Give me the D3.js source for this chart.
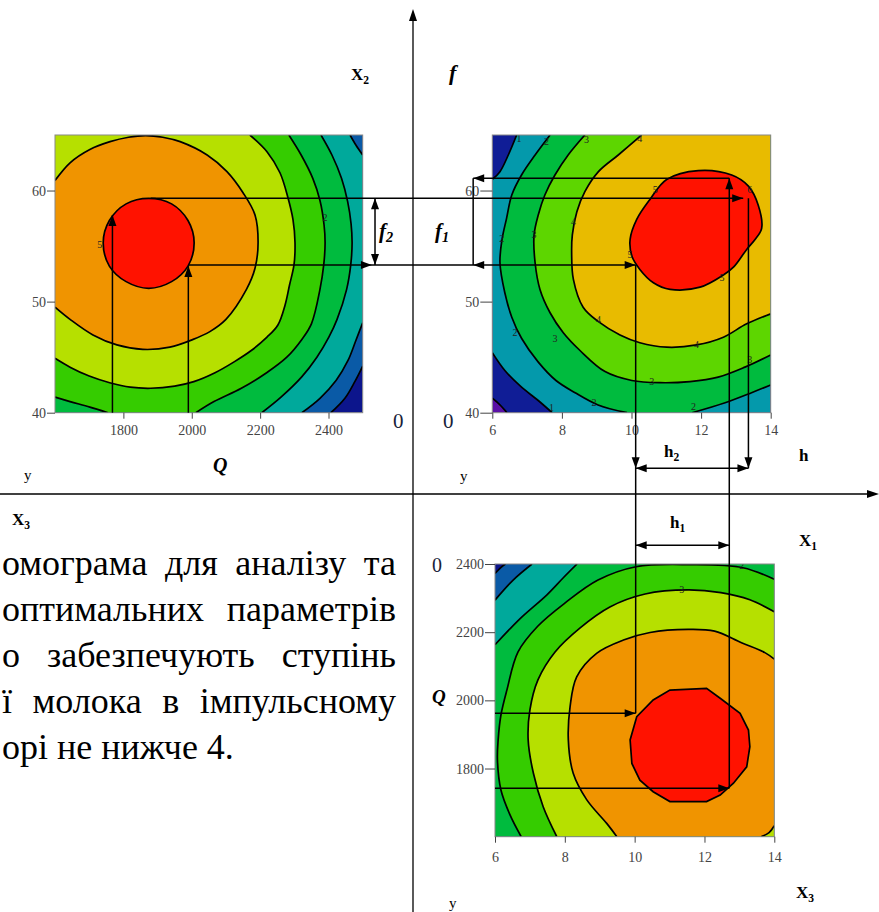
<!DOCTYPE html>
<html>
<head>
<meta charset="utf-8">
<script src="https://cdn.jsdelivr.net/npm/d3@7"></script>
<style>
  body { margin: 0; background: #fff; }
  svg { display: block; }
</style>
</head>
<body>
<svg id="chart"></svg>
<script>
// ---- tick values ----
const tlQTicks = [1800, 2000, 2200, 2400];
const fTicks = [40, 50, 60];
const hTicks = [6, 8, 10, 12, 14];
const bpQTicks = [1800, 2000, 2200, 2400];

// ---- contour lines, top-left plot (Q, f) ----
const tlLm1 = [[2407,40],[2448,41.3],[2477,42.8],[2500,44.2]];
const tlL0a = [[2500,63.2],[2480,64.1],[2463,65]];
const tlL0b = [[2322,40],[2375,41.3],[2422,42.9],[2457,44.7],[2480,46.5],[2500,48.1]];
const tlL1 = [[2205,40],[2261,41.4],[2321,43.2],[2366,45.0],[2401,46.8],[2425,48.4],[2453,51.1],[2465,53.3],[2469,55.3],[2466,57.0],[2456,59.0],[2438,61.1],[2410,63.2],[2378,65]];
const tlL2a = [[2012,40],[2065,41.0],[2145,42.2],[2219,43.6],[2278,45.0],[2322,46.6],[2350,48.0],[2375,51.1],[2386,53.3],[2390,55.3],[2387,56.9],[2375,59.1],[2354,61.1],[2320,63.2],[2284,65]];
const tlL2b = [[1600,41.4],[1644,41.0],[1702,40.5],[1755,40]];
const tlL3 = [[2170,65],[2220,63.5],[2258,61.6],[2281,59.4],[2296,57.4],[2302,55.3],[2299,53.3],[2286,51.5],[2273,49.7],[2252,47.9],[2220,46.8],[2174,45.6],[2125,44.6],[2068,43.6],[2006,42.8],[1950,42.4],[1880,42.2],[1820,42.3],[1760,42.7],[1700,43.3],[1644,44.1],[1600,44.9]];
const tlL4 = [[1600,60.9],[1644,62.5],[1702,63.7],[1761,64.4],[1815,64.8],[1865,64.95],[1915,64.8],[1966,64.4],[2045,63.2],[2103,61.7],[2150,59.8],[2185,57.8],[2194,55.3],[2185,53.0],[2160,51.1],[2100,48.4],[2053,47.3],[2004,46.6],[1936,45.9],[1857,45.7],[1781,46.1],[1711,47.0],[1644,48.4],[1600,49.5]];
const tlL5 = [[2007,55.3],[1989,57.3],[1941,58.8],[1874,59.3],[1808,58.8],[1759,57.3],[1741,55.3],[1759,53.2],[1808,51.8],[1874,51.2],[1941,51.8],[1989,53.2]];
const tlLabels = [[1731,55.1,'5'],[2390,57.6,'2']];

// ---- contour lines, top-right plot (h, f) ----
const trL0 = [[6,41.3],[6.22,40.7],[6.42,40]];
const trL1a = [[6.70,65],[6.46,63.2],[6.22,61.7],[6,61.0]];
const trL1b = [[6,45.4],[6.36,43.8],[6.84,42.3],[7.32,41.1],[7.72,40]];
const trL2a = [[7.66,65],[7.23,63.2],[6.84,61.4],[6.56,59.6],[6.41,57.5],[6.28,55.6],[6.22,53.5],[6.36,50.8],[6.56,48.6],[6.84,46.7],[7.31,44.6],[7.83,42.9],[8.38,41.8],[9.04,40.7],[9.87,40]];
const trL2b = [[11.74,40],[12.69,40.9],[13.45,41.8],[14,42.5]];
const trL3 = [[8.66,65],[8.18,63.2],[7.80,61.4],[7.51,59.6],[7.32,57.8],[7.20,56.0],[7.23,53.5],[7.37,51.1],[7.66,49.0],[8.04,47.2],[8.52,45.6],[9.24,43.7],[10.01,42.9],[10.82,42.7],[11.68,42.8],[12.49,43.2],[13.26,44.1],[14,45.2]];
const trL4 = [[10.29,65],[9.62,63.2],[9.05,61.7],[8.66,59.9],[8.43,58.1],[8.30,56.0],[8.28,54.4],[8.33,52.0],[8.61,49.5],[9.05,48.2],[9.67,47.0],[10.24,46.3],[11.01,45.9],[11.87,46.1],[12.64,46.8],[13.31,48.0],[14,48.9]];
const trL5 = [[11.01,61.0],[11.92,61.8],[12.88,61.4],[13.36,60.4],[13.64,58.7],[13.74,56.6],[13.55,55.6],[13.31,54.7],[12.93,53.1],[12.64,52.4],[11.97,51.3],[11.11,51.1],[10.63,51.7],[10.24,52.9],[10.01,54.1],[9.96,55.6],[10.15,57.4],[10.53,59.2]];
const trLabels = [[6.77,64.7,'1'],[7.56,64.4,'2'],[8.71,64.6,'3'],[10.24,64.7,'4'],[10.68,60.1,'5'],[13.4,60.1,'6'],[9.96,54.2,'5'],[12.6,52.2,'5'],[6.27,55.7,'2'],[7.2,56.0,'3'],[8.33,57.2,'4'],[9.05,48.4,'4'],[11.87,46.1,'4'],[6.65,47.2,'2'],[7.8,46.7,'3'],[10.58,42.8,'3'],[13.4,44.8,'3'],[8.92,40.9,'2'],[11.78,40.6,'2'],[7.7,40.5,'1']];

// ---- contour lines, bottom plot (h, Q) ----
const bpLm1 = [[6,2372],[6.15,2388],[6.3,2400]];
const bpL0 = [[6,2294],[6.52,2353],[7.06,2400]];
const bpL1 = [[6,2163],[6.72,2240],[7.48,2309],[7.95,2359],[8.35,2400]];
const bpL2 = [[6.75,1600],[6.43,1664],[6.17,1737],[6.07,1825],[6.09,1884],[6.17,1957],[6.34,2030],[6.66,2142],[7.23,2218],[8.01,2286],[8.95,2353],[10.04,2392],[11.59,2398],[13.10,2389],[14,2355]];
const bpL3 = [[7.77,1600],[7.38,1688],[7.10,1786],[6.95,1884],[7.00,1972],[7.23,2060],[7.72,2142],[8.43,2212],[9.29,2274],[10.30,2312],[11.53,2324],[12.47,2316],[13.30,2295],[14,2260]];
const bpL4a = [[9.49,1600],[9.20,1639],[8.63,1708],[8.24,1786],[8.10,1884],[8.15,1981],[8.34,2069],[8.91,2138],[9.68,2177],[10.44,2199],[11.53,2208],[12.29,2203],[13.06,2169],[13.73,2140],[14,2121]];
const bpL4b = [[14,1632],[13.85,1612],[13.62,1600]];
const bpL5 = [[11.01,2030],[12.06,2035],[12.45,2006],[13.02,1962],[13.26,1913],[13.30,1864],[13.21,1805],[12.83,1757],[12.45,1722],[12.06,1703],[11.01,1703],[10.53,1732],[10.15,1766],[9.92,1815],[9.87,1884],[10.06,1952],[10.53,2001]];
const bpLabels = [[13.07,2397,'2'],[11.35,2324,'3']];

// ---- nomogram guide lines: [xPanel, x, yPanel, y] ----
const guides = [
  [['tl',1768,'tl',40], ['tl',1768,'tl',57.8]],
  [['tl',1990,'tl',40], ['tl',1990,'tl',53.2]],
  [['tl',1880,'tl',59.3], ['tr',13.21,'tr',59.3]],
  [['tl',1990,'tl',53.3], ['tr',10.12,'tr',53.3]],
  [['tr',5.45,'tr',61.1], ['tr',12.81,'tr',61.1]],
  [['tr',5.45,'tr',61.1], ['tr',5.45,'tr',53.3]],
  [['tl',2536,'tl',59.3], ['tl',2536,'tl',53.3]],
  [['tr',10.12,'tr',53.3], ['tr',10.12,'bp',1962]],
  [['tr',12.81,'tr',61.1], ['tr',12.81,'bp',1742]],
  [['tr',13.36,'tr',59.3], ['tr',13.36,'tr',35.0]],
  [['tr',10.12,'tr',35.0], ['tr',13.36,'tr',35.0]],
  [['tr',10.12,'bp',2455], ['tr',12.81,'bp',2455]],
  [['bp',6,'bp',1962], ['tr',10.12,'bp',1962]],
  [['bp',6,'bp',1742], ['tr',12.81,'bp',1742]]
];
// arrow heads: tip point and direction
const heads = [
  [['tl',1768,'tl',57.8], 'up'], [['tl',1990,'tl',53.2], 'up'],
  [['tr',13.21,'tr',59.3], 'right'],
  [['tl',2527,'tl',53.3], 'right'], [['tr',5.45,'tr',53.3], 'left'], [['tr',10.12,'tr',53.3], 'right'],
  [['tr',5.45,'tr',61.1], 'left'], [['tr',12.81,'tr',61.1], 'up'],
  [['tl',2536,'tl',59.3], 'up'], [['tl',2536,'tl',53.3], 'down'],
  [['tr',10.12,'tr',35.0], 'down'], [['tr',13.36,'tr',35.0], 'down'],
  [['tr',10.12,'tr',35.0], 'left'], [['tr',13.36,'tr',35.0], 'right'],
  [['tr',10.12,'bp',2455], 'left'], [['tr',12.81,'bp',2455], 'right'],
  [['tr',10.12,'bp',1962], 'right'], [['tr',12.81,'bp',1742], 'right']
];

const paraLines = [
  ['омограма', 'для', 'аналізу', 'та'],
  ['оптимальних', 'параметрів'],
  ['о', 'забезпечують', 'ступінь'],
  ['ї', 'молока', 'в', 'імпульсному'],
  ['орі', 'не', 'нижче', '4.']
];

const pal = {
  red: '#ff1200', orange: '#f09400', gold: '#e8bb00', yg: '#b6e000',
  lgreen: '#35cc00', lgreen2: '#5dd600', green: '#00bb3e', teal: '#00a99b',
  teal2: '#0499ab', blue: '#0a5aa6', navy: '#0c158c', navy2: '#101d96', purple: '#5a10a6'
};

const W = 879, H = 912;
const serif = 'Liberation Serif, Times New Roman, serif';
const svg = d3.select('#chart').attr('width', W).attr('height', H);

const panels = {
  tl: { x: d3.scaleLinear().domain([1600, 2500]).range([55, 362.7]),
        y: d3.scaleLinear().domain([40, 65]).range([412.7, 135]) },
  tr: { x: d3.scaleLinear().domain([6, 14]).range([492.3, 770.7]),
        y: d3.scaleLinear().domain([40, 65]).range([412.7, 135]) },
  bp: { x: d3.scaleLinear().domain([6, 14]).range([495, 774.3]),
        y: d3.scaleLinear().domain([1600, 2400]).range([836.7, 564]) }
};

const bands = {
  tl: { base: pal.navy, list: [
    { c: pal.blue, parts: [tlLm1, 'NE', 'NW', 'SW'] },
    { c: pal.teal, parts: [tlL0b, tlL0a, 'NW', 'SW'] },
    { c: pal.green, parts: [tlL1, 'NW', 'SW'] },
    { c: pal.lgreen, parts: [tlL2a, 'NW', tlL2b] },
    { c: pal.yg, parts: [tlL3, 'NW'] },
    { c: pal.orange, parts: [tlL4] }],
    red: tlL5, lines: [tlLm1, tlL0a, tlL0b, tlL1, tlL2a, tlL2b, tlL3, tlL4], labels: tlLabels },
  tr: { base: pal.purple, list: [
    { c: pal.navy2, parts: [trL0, 'SE', 'NE', 'NW'] },
    { c: pal.teal2, parts: [trL1b, 'SE', 'NE', trL1a] },
    { c: pal.green, parts: [trL2a, trL2b, 'NE'] },
    { c: pal.lgreen2, parts: [trL3, 'NE'] },
    { c: pal.gold, parts: [trL4, 'NE'] }],
    red: trL5, lines: [trL0, trL1a, trL1b, trL2a, trL2b, trL3, trL4], labels: trLabels },
  bp: { base: pal.navy, list: [
    { c: pal.blue, parts: [bpLm1, 'NE', 'SE', 'SW'] },
    { c: pal.teal, parts: [bpL0, 'NE', 'SE', 'SW'] },
    { c: pal.green, parts: [bpL1, 'NE', 'SE', 'SW'] },
    { c: pal.lgreen, parts: [bpL2, 'SE'] },
    { c: pal.yg, parts: [bpL3, 'SE'] },
    { c: pal.orange, parts: [bpL4a, bpL4b] }],
    red: bpL5, redLinear: true, lines: [bpLm1, bpL0, bpL1, bpL2, bpL3, bpL4a, bpL4b], labels: bpLabels }
};

function regionPath(p, parts) {
  const [x0, x1] = p.x.domain(), [y0, y1] = p.y.domain();
  const corner = { NW: [x0, y1], NE: [x1, y1], SW: [x0, y0], SE: [x1, y0] };
  const smooth = d3.line().x(d => p.x(d[0])).y(d => p.y(d[1])).curve(d3.curveCatmullRom);
  let d = '';
  parts.forEach(part => {
    let s = typeof part === 'string'
      ? 'M' + p.x(corner[part][0]) + ',' + p.y(corner[part][1])
      : smooth(part);
    d += d ? s.replace(/^M/, 'L') : s;
  });
  return d + 'Z';
}

// ---- contour panels ----
Object.keys(panels).forEach(key => {
  const p = panels[key], b = bands[key];
  const [rx0, rx1] = p.x.range(), [ry0, ry1] = p.y.range();
  const clipId = 'clip-' + key;
  svg.append('clipPath').attr('id', clipId).append('rect')
    .attr('x', rx0).attr('y', ry1).attr('width', rx1 - rx0).attr('height', ry0 - ry1);

  const g = svg.append('g').attr('clip-path', `url(#${clipId})`);
  g.append('rect').attr('x', rx0).attr('y', ry1).attr('width', rx1 - rx0).attr('height', ry0 - ry1)
    .attr('fill', b.base);
  b.list.forEach(band => {
    g.append('path').attr('d', regionPath(p, band.parts)).attr('fill', band.c);
  });
  const closed = d3.line().x(d => p.x(d[0])).y(d => p.y(d[1]))
    .curve(b.redLinear ? d3.curveLinearClosed : d3.curveCatmullRomClosed);
  g.append('path').attr('d', closed(b.red)).attr('fill', pal.red)
    .attr('stroke', '#000').attr('stroke-width', 1.7);

  const open = d3.line().x(d => p.x(d[0])).y(d => p.y(d[1])).curve(d3.curveCatmullRom);
  g.selectAll('path.lvl').data(b.lines).enter().append('path').attr('class', 'lvl')
    .attr('d', open).attr('fill', 'none').attr('stroke', '#000')
    .attr('stroke-width', 1.7).attr('stroke-linejoin', 'round');

  g.selectAll('text.lbl').data(b.labels).enter().append('text').attr('class', 'lbl')
    .attr('x', d => p.x(d[0])).attr('y', d => p.y(d[1])).attr('dy', '0.35em')
    .attr('text-anchor', 'middle').style('font-family', serif).attr('font-size', 10)
    .attr('fill', '#222').text(d => d[2]);

  svg.append('rect').attr('x', rx0).attr('y', ry1).attr('width', rx1 - rx0).attr('height', ry0 - ry1)
    .attr('fill', 'none').attr('stroke', '#888').attr('stroke-width', 1);
});

// ---- axes of the panels ----
function styleAxis(sel) {
  sel.select('.domain').remove();
  sel.selectAll('line').attr('stroke', '#444');
  sel.selectAll('text').style('font-family', serif).attr('font-size', 14).attr('fill', '#444');
}
const fmt = d3.format('d');
const pTL = panels.tl, pTR = panels.tr, pBP = panels.bp;
svg.append('g').attr('transform', `translate(0,${pTL.y.range()[0]})`)
  .call(d3.axisBottom(pTL.x).tickValues(tlQTicks).tickFormat(fmt).tickSize(6).tickPadding(6)).call(styleAxis);
svg.append('g').attr('transform', `translate(${pTL.x.range()[0]},0)`)
  .call(d3.axisLeft(pTL.y).tickValues(fTicks).tickFormat(fmt).tickSize(8).tickPadding(1)).call(styleAxis);
svg.append('g').attr('transform', `translate(0,${pTR.y.range()[0]})`)
  .call(d3.axisBottom(pTR.x).tickValues(hTicks).tickFormat(fmt).tickSize(6).tickPadding(6)).call(styleAxis);
svg.append('g').attr('transform', `translate(${pTR.x.range()[0]},0)`)
  .call(d3.axisLeft(pTR.y).tickValues(fTicks).tickFormat(fmt).tickSize(12).tickPadding(1)).call(styleAxis);
svg.append('g').attr('transform', `translate(0,${pBP.y.range()[0]})`)
  .call(d3.axisBottom(pBP.x).tickValues(hTicks).tickFormat(fmt).tickSize(6).tickPadding(9)).call(styleAxis);
svg.append('g').attr('transform', `translate(${pBP.x.range()[0]},0)`)
  .call(d3.axisLeft(pBP.y).tickValues(bpQTicks).tickFormat(fmt).tickSize(10).tickPadding(1)).call(styleAxis);

// ---- main cross axes ----
const ox = 413, oy = 494;
svg.append('line').attr('x1', ox).attr('x2', ox).attr('y1', H).attr('y2', 14)
  .attr('stroke', '#000').attr('stroke-width', 1.3);
svg.append('path').attr('d', `M${ox},9L${ox - 4},21L${ox + 4},21Z`).attr('fill', '#000');
svg.append('line').attr('x1', 0).attr('x2', W - 4).attr('y1', oy).attr('y2', oy)
  .attr('stroke', '#000').attr('stroke-width', 1.3);
svg.append('path').attr('d', `M${W},${oy}L${W - 12},${oy - 4}L${W - 12},${oy + 4}Z`).attr('fill', '#000');

// ---- guide lines and arrow heads ----
const pt = s => [panels[s[0]].x(s[1]), panels[s[2]].y(s[3])];
svg.selectAll('line.guide').data(guides).enter().append('line').attr('class', 'guide')
  .attr('x1', d => pt(d[0])[0]).attr('y1', d => pt(d[0])[1])
  .attr('x2', d => pt(d[1])[0]).attr('y2', d => pt(d[1])[1])
  .attr('stroke', '#000').attr('stroke-width', 1.5);
const headShape = {
  up: (x, y) => `M${x},${y}L${x - 4},${y + 11}L${x + 4},${y + 11}Z`,
  down: (x, y) => `M${x},${y}L${x - 4},${y - 11}L${x + 4},${y - 11}Z`,
  left: (x, y) => `M${x},${y}L${x + 11},${y - 4}L${x + 11},${y + 4}Z`,
  right: (x, y) => `M${x},${y}L${x - 11},${y - 4}L${x - 11},${y + 4}Z`
};
svg.selectAll('path.head').data(heads).enter().append('path').attr('class', 'head')
  .attr('d', d => { const [x, y] = pt(d[0]); return headShape[d[1]](x, y); })
  .attr('fill', '#000');

// ---- labels ----
function label(x, y, main, sub, opts = {}) {
  const t = svg.append('text').attr('x', x).attr('y', y)
    .style('font-family', serif).attr('font-size', opts.size || 17)
    .attr('font-weight', opts.weight || 'bold').attr('font-style', opts.style || 'normal')
    .attr('fill', opts.fill || '#000');
  t.append('tspan').text(main);
  if (sub) t.append('tspan').attr('font-size', (opts.size || 17) * 0.68).attr('dy', 4).text(sub);
}
label(351, 80, 'X', '2');
label(449, 80, 'f', null, { style: 'italic', size: 22 });
label(24, 480, 'y', null, { weight: 'normal', size: 15 });
label(213, 472, 'Q', null, { style: 'italic', size: 20 });
label(12, 525, 'X', '3');
label(393, 428, '0', null, { weight: 'normal', size: 21, fill: '#1a1f3a' });
label(443, 428, '0', null, { weight: 'normal', size: 21, fill: '#1a1f3a' });
label(460, 481, 'y', null, { weight: 'normal', size: 15 });
label(664, 457, 'h', '2');
label(799, 461, 'h');
label(670, 528, 'h', '1');
label(799, 546, 'X', '1');
label(432, 572, '0', null, { weight: 'normal', size: 20, fill: '#1a1f3a' });
label(432, 703, 'Q', null, { style: 'italic', size: 19 });
label(449, 908, 'y', null, { weight: 'normal', size: 15 });
label(796, 898, 'X', '3');
label(379, 238, 'f', '2', { style: 'italic', size: 21 });
label(435, 238, 'f', '1', { style: 'italic', size: 21 });

// ---- caption text (justified) ----
const textLeft = 2, textRight = 396, fontPx = 36;
paraLines.forEach((words, i) => {
  const yb = 575 + i * 46;
  const g = svg.append('g').style('font-family', serif).attr('font-size', fontPx).attr('fill', '#000');
  const nodes = words.map(w => g.append('text').attr('y', yb).text(w));
  const widths = nodes.map(n => n.node().getComputedTextLength());
  const last = i === paraLines.length - 1;
  const gap = last ? fontPx * 0.25 : (textRight - textLeft - d3.sum(widths)) / (words.length - 1);
  let x = textLeft;
  nodes.forEach((n, j) => { n.attr('x', x); x += widths[j] + gap; });
});
</script>
</body>
</html>
